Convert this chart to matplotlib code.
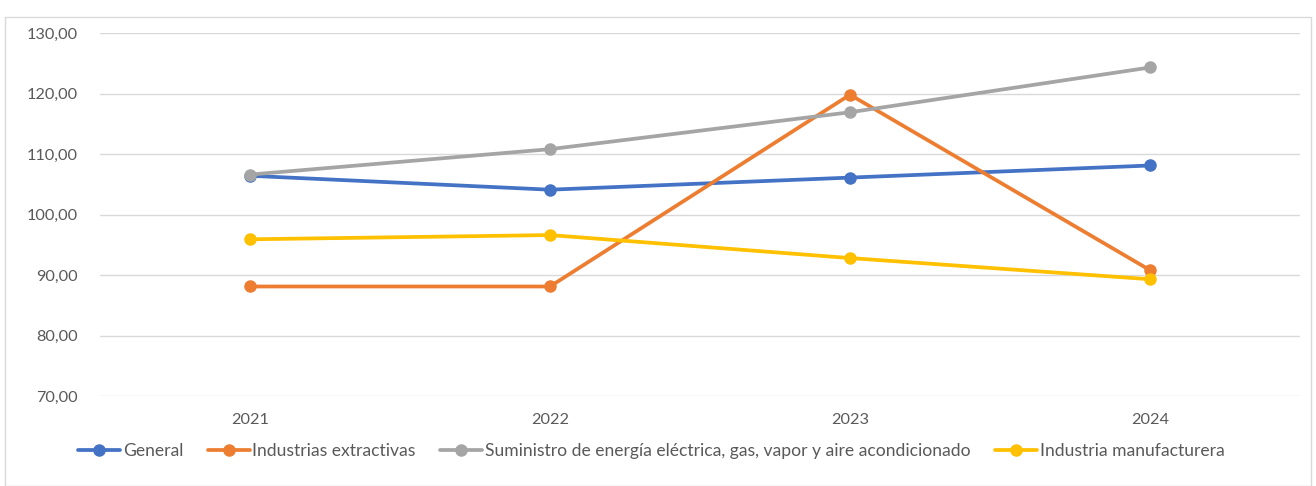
import matplotlib
matplotlib.use("Agg")
import matplotlib.pyplot as plt
from matplotlib.ticker import FuncFormatter, MultipleLocator
from matplotlib.patches import Rectangle

years = ["2021", "2022", "2023", "2024"]
general = [106.4, 104.1, 106.1, 108.1]
extractivas = [88.1, 88.1, 119.8, 90.8]
suministro = [106.6, 110.8, 116.9, 124.3]
manufacturera = [95.9, 96.6, 92.8, 89.3]

series = [
    ("General", general, "#4472C4"),
    ("Industrias extractivas", extractivas, "#ED7D31"),
    ("Suministro de energía eléctrica, gas, vapor y aire acondicionado", suministro, "#A5A5A5"),
    ("Industria manufacturera", manufacturera, "#FFC000"),
]

plt.rcParams['font.family'] = ['Lato', 'DejaVu Sans']

fig = plt.figure(figsize=(13.16, 4.86), dpi=100)
ax = fig.add_axes([100/1316, 1-396/486, 1200/1316, 363/486])

x = list(range(len(years)))
for name, vals, col in series:
    ax.plot(x, vals, color=col, lw=2.7, marker="o", markersize=8, label=name,
            solid_capstyle="round")

ax.set_xlim(-0.5, 3.5)
ax.set_ylim(70, 130)
ax.yaxis.set_major_locator(MultipleLocator(10))
ax.yaxis.set_major_formatter(FuncFormatter(lambda v, p: f"{v:.2f}".replace(".", ",")))
ax.set_xticks(x)
ax.set_xticklabels(years)
ax.grid(axis="y", color="#D9D9D9", lw=1)
ax.set_axisbelow(True)
for s in ax.spines.values():
    s.set_visible(False)
ax.tick_params(length=0, labelsize=11.7, colors="#595959")
ax.tick_params(axis="y", pad=16)
ax.tick_params(axis="x", pad=12)

fig.patches.append(Rectangle((5/1316, 0), 1 - 10/1316, 1 - 17/486, transform=fig.transFigure,
                             fill=False, edgecolor="#D9D9D9", lw=1))

leg = fig.legend(loc="center", bbox_to_anchor=(0.495, 1-451/486), ncol=4, frameon=False,
                 fontsize=12.6, handlelength=2.4, handletextpad=0.15, columnspacing=1.4,
                 labelcolor="#595959")

fig.savefig("out.png", dpi=100)
